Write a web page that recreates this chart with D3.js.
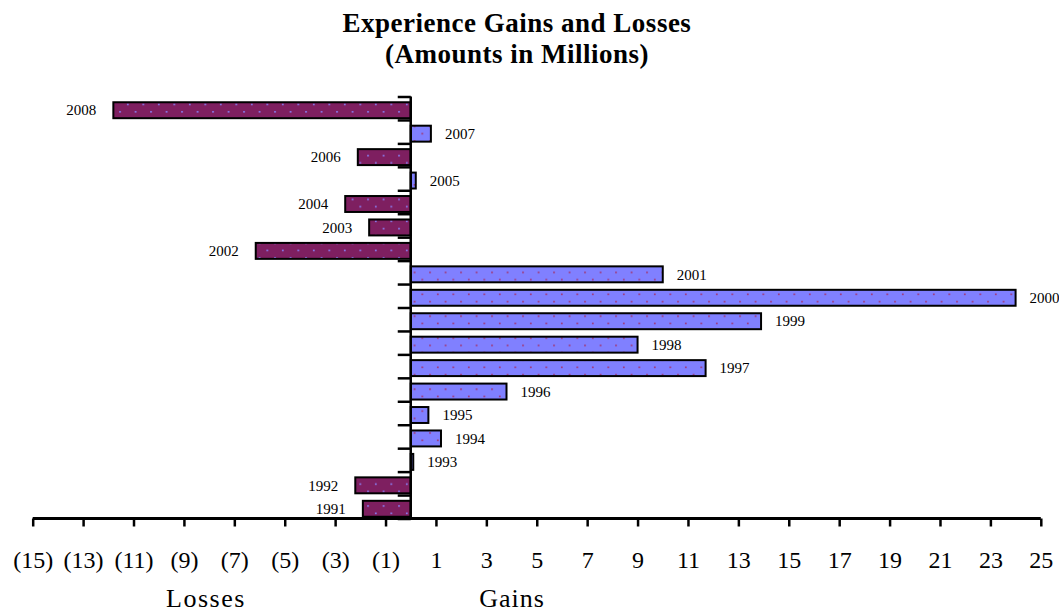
<!DOCTYPE html>
<html>
<head>
<meta charset="utf-8">
<script src="https://cdn.jsdelivr.net/npm/d3@7"></script>
<style>
  html, body { margin: 0; padding: 0; background: #fff; }
  svg { display: block; }
  text { font-family: "Liberation Serif", "Times New Roman", serif; fill: #000; }
</style>
</head>
<body>
<svg id="chart" width="1059" height="612"></svg>
<script>
// Plan years, bottom (1991) to top (2008)
const years = [1991, 1992, 1993, 1994, 1995, 1996, 1997, 1998, 1999, 2000,
               2001, 2002, 2003, 2004, 2005, 2006, 2007, 2008];
// Experience gain (+) or loss (-), $ millions
const amounts = [-1.9, -2.2, 0.1, 1.2, 0.7, 3.8, 11.7, 9.0, 13.9, 24.0,
                 10.0, -6.15, -1.65, -2.6, 0.2, -2.1, 0.8, -11.8];
// Value axis ticks
const tickValues = d3.range(-15, 26, 2);
const titleLines = ["Experience Gains and Losses", "(Amounts in Millions)"];

const svg = d3.select("#chart");

// Dotted fills
const defs = svg.append("defs");
function dotPattern(id, bg, dot) {
  const p = defs.append("pattern").attr("id", id)
    .attr("patternUnits", "userSpaceOnUse")
    .attr("width", 15.5).attr("height", 14.6);
  p.append("rect").attr("width", 15.5).attr("height", 14.6).attr("fill", bg);
  p.append("rect").attr("x", 3).attr("y", 1.5).attr("width", 1.6).attr("height", 1.6).attr("fill", dot);
  p.append("rect").attr("x", 10.75).attr("y", 8.8).attr("width", 1.6).attr("height", 1.6).attr("fill", dot);
}
dotPattern("lossFill", "#7E1F60", "#8A86FF");
dotPattern("gainFill", "#8080FF", "#A3306A");

const x = d3.scaleLinear().domain([-15, 25]).range([32.7, 1040.8]);
const plotTop = 96.5, plotBottom = 518.5;
// bars sit slightly low inside their slots
const y = d3.scaleBand()
  .domain(years.slice().reverse())
  .range([plotTop + 2, plotBottom + 2])
  .paddingInner(0.32).paddingOuter(0.16);
const yIdx = d3.scaleLinear().domain([0, years.length]).range([plotTop, plotBottom]);

// Title
svg.append("g").selectAll("text").data(titleLines).join("text")
  .attr("x", 517).attr("y", (d, i) => 32 + i * 31)
  .attr("text-anchor", "middle")
  .style("font-size", "27px").style("font-weight", "bold")
  .style("letter-spacing", "0.5px")
  .text(d => d);

// Bars
const data = years.map((yr, i) => ({ year: yr, value: amounts[i] }));
svg.append("g").selectAll("rect").data(data).join("rect")
  .attr("x", d => x(Math.min(0, d.value)))
  .attr("y", d => y(d.year))
  .attr("width", d => Math.abs(x(d.value) - x(0)))
  .attr("height", y.bandwidth())
  .attr("fill", d => d.value < 0 ? "url(#lossFill)" : "url(#gainFill)")
  .attr("stroke", "#000").attr("stroke-width", 2);

// Year labels beside each bar end
svg.append("g").selectAll("text").data(data).join("text")
  .attr("x", d => d.value < 0 ? x(d.value) - 17 : x(d.value) + 14)
  .attr("y", d => y(d.year) + y.bandwidth() / 2)
  .attr("dy", "0.35em")
  .attr("text-anchor", d => d.value < 0 ? "end" : "start")
  .style("font-size", "15px")
  .text(d => d.year);

// Category axis at zero with ticks between bars
const yAxis = svg.append("g")
  .attr("transform", `translate(${x(0)},0)`)
  .call(d3.axisLeft(yIdx).tickValues(d3.range(0, years.length + 1)).tickSize(13).tickFormat(""));
yAxis.select(".domain").attr("stroke", "#000").attr("stroke-width", 2.5)
  .attr("d", `M0,${plotTop}V${plotBottom}`);
yAxis.selectAll(".tick line").attr("stroke", "#000").attr("stroke-width", 2.5);

// Value axis
const xAxis = svg.append("g")
  .attr("transform", `translate(0,${plotBottom})`)
  .call(d3.axisBottom(x).tickValues(tickValues).tickSize(8).tickPadding(24)
    .tickFormat(v => v < 0 ? `(${-v})` : `${v}`));
xAxis.select(".domain").attr("stroke", "#000").attr("stroke-width", 3)
  .attr("d", `M${x(-15)},0H${x(25)}`);
xAxis.selectAll(".tick line").attr("stroke", "#000").attr("stroke-width", 2.5);
xAxis.selectAll(".tick text")
  .style("font-family", "'Liberation Serif', 'Times New Roman', serif")
  .style("font-size", "24px").attr("fill", "#000");

// Side captions
svg.append("text").attr("x", 206).attr("y", 607).attr("text-anchor", "middle")
  .style("font-size", "26px").style("letter-spacing", "1.5px").text("Losses");
svg.append("text").attr("x", 512).attr("y", 607).attr("text-anchor", "middle")
  .style("font-size", "26px").style("letter-spacing", "1px").text("Gains");
</script>
</body>
</html>
